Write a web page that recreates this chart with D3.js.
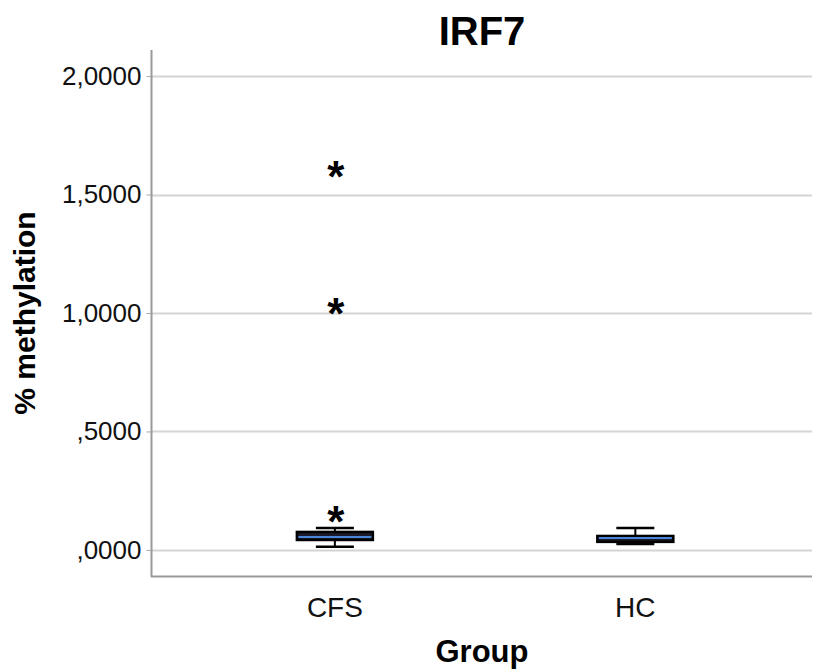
<!DOCTYPE html>
<html>
<head>
<meta charset="utf-8">
<script src="https://cdn.jsdelivr.net/npm/d3@7"></script>
<style>
body { margin: 0; background: #fff; }
text { font-family: "Liberation Sans", Arial, sans-serif; }
</style>
</head>
<body>
<svg id="chart" width="814" height="671"></svg>
<script>
// values
var groups = ["CFS", "HC"];
var whiskerLow = [0.013, 0.025];
var q1 = [0.042, 0.034];
var median = [0.055, 0.050];
var q3 = [0.076, 0.059];
var whiskerHigh = [0.093, 0.093];
var outlierGroup = ["CFS", "CFS", "CFS"];
var outlierValue = [1.600, 1.021, 0.143];
var yTicks = [0, 0.5, 1, 1.5, 2];

var svg = d3.select("#chart");
var plotLeft = 151, plotRight = 812, plotTop = 50, plotBottom = 576;

var x = d3.scalePoint().domain(groups).range([plotLeft, plotRight]).padding(0.6).align(0.51);
var y = d3.scaleLinear().domain([-0.11, 2.11]).range([plotBottom, plotTop]);

var fmt = function (v) {
  var s = d3.format(".4f")(v).replace(".", ",");
  return s.charAt(0) === "0" ? s.slice(1) : s;
};

// gridlines
svg.append("g").selectAll("line").data(yTicks).enter().append("line")
  .attr("x1", plotLeft + 1).attr("x2", plotRight)
  .attr("y1", function (d) { return Math.round(y(d)) + 0.5; })
  .attr("y2", function (d) { return Math.round(y(d)) + 0.5; })
  .attr("stroke", "#d4d4d4").attr("stroke-width", 2);

// y axis
var yAxis = d3.axisLeft(y).tickValues(yTicks).tickFormat(fmt).tickSize(5).tickPadding(5);
var ga = svg.append("g").attr("transform", "translate(" + (plotLeft + 0.5) + ",0)").call(yAxis);
ga.select(".domain").remove();
ga.selectAll(".tick line").attr("stroke", "#aaa");
ga.selectAll(".tick text").attr("font-size", 26).attr("fill", "#111")
  .attr("font-family", "Liberation Sans, Arial, sans-serif");

svg.append("line").attr("x1", plotLeft + 0.5).attr("x2", plotLeft + 0.5)
  .attr("y1", plotTop).attr("y2", plotBottom + 1).attr("stroke", "#999").attr("stroke-width", 2);
svg.append("line").attr("x1", plotLeft).attr("x2", plotRight)
  .attr("y1", plotBottom + 0.5).attr("y2", plotBottom + 0.5).attr("stroke", "#999").attr("stroke-width", 2);

// x axis labels
svg.append("g").selectAll("text").data(groups).enter().append("text")
  .attr("x", function (d) { return x(d); }).attr("y", 617)
  .attr("text-anchor", "middle").attr("font-size", 28).attr("fill", "#111")
  .text(function (d) { return d; });

// boxes
var boxW = 76, capW = 38;
var boxes = svg.append("g").selectAll("g").data(groups).enter().append("g");
boxes.append("line")
  .attr("x1", function (d) { return x(d); }).attr("x2", function (d) { return x(d); })
  .attr("y1", function (d, i) { return y(whiskerLow[i]); })
  .attr("y2", function (d, i) { return y(whiskerHigh[i]); })
  .attr("stroke", "#000").attr("stroke-width", 2);
[whiskerLow, whiskerHigh].forEach(function (arr) {
  boxes.append("line")
    .attr("x1", function (d) { return x(d) - capW / 2; })
    .attr("x2", function (d) { return x(d) + capW / 2; })
    .attr("y1", function (d, i) { return y(arr[i]); })
    .attr("y2", function (d, i) { return y(arr[i]); })
    .attr("stroke", "#000").attr("stroke-width", 2.5);
});
boxes.append("rect")
  .attr("x", function (d) { return x(d) - boxW / 2; })
  .attr("width", boxW)
  .attr("y", function (d, i) { return y(q3[i]); })
  .attr("height", function (d, i) { return y(q1[i]) - y(q3[i]); })
  .attr("fill", "#1a1a2a").attr("stroke", "#000").attr("stroke-width", 2.5);
boxes.append("line")
  .attr("x1", function (d) { return x(d) - boxW / 2 + 1.5; })
  .attr("x2", function (d) { return x(d) + boxW / 2 - 1.5; })
  .attr("y1", function (d, i) { return y(median[i]); })
  .attr("y2", function (d, i) { return y(median[i]); })
  .attr("stroke", "#4a86d8").attr("stroke-width", 2);

// extreme outliers
svg.append("g").selectAll("text").data(outlierValue).enter().append("text")
  .attr("x", function (d, i) { return x(outlierGroup[i]) + 1; })
  .attr("y", function (d) { return y(d); })
  .attr("dy", "0.47em")
  .attr("text-anchor", "middle").attr("font-size", 44).attr("font-weight", "bold")
  .attr("fill", "#000").text("*");

// titles
svg.append("text").attr("x", 482).attr("y", 45).attr("text-anchor", "middle")
  .attr("font-size", 40).attr("font-weight", "bold").attr("fill", "#000").text("IRF7");
svg.append("text").attr("x", 482).attr("y", 662).attr("text-anchor", "middle")
  .attr("font-size", 31).attr("font-weight", "bold").attr("fill", "#000").text("Group");
svg.append("text").attr("transform", "translate(35,313) rotate(-90)").attr("text-anchor", "middle")
  .attr("font-size", 30).attr("font-weight", "bold").attr("fill", "#000").text("% methylation");
</script>
</body>
</html>
